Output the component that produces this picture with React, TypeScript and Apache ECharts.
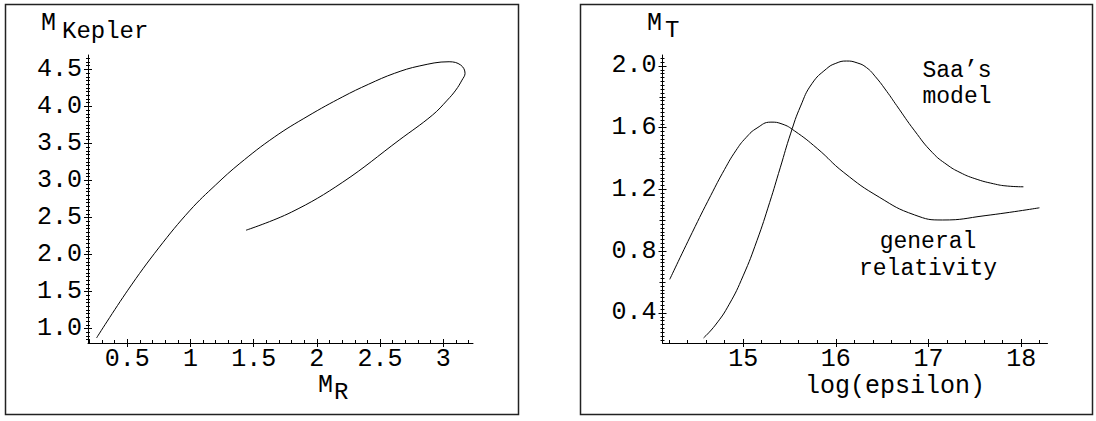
import React, { useEffect, useRef } from "react";
import * as echarts from "echarts";

const FONT = "'Liberation Mono', 'DejaVu Sans Mono', monospace";

// ---- Left panel: M_R (x) vs M_Kepler (y), one parametric curve ----
const keplerCurve: number[][] = [
  [0.2575, 0.873], [0.505, 1.518], [0.75, 2.09], [0.998, 2.599], [1.2, 2.94],
  [1.391, 3.23], [1.663, 3.585], [1.93, 3.87], [2.205, 4.13], [2.41, 4.3],
  [2.613, 4.446], [2.809, 4.545], [3.046, 4.603], [3.138, 4.558], [3.172, 4.446],
  [3.148, 4.355], [3.099, 4.22], [3.032, 4.085], [2.914, 3.882], [2.651, 3.545],
  [2.205, 2.977], [1.799, 2.572], [1.44, 2.328],
];
const leftXRange = [0.19, 3.235];
const leftYRange = [0.805, 4.694];
const leftXMajor = [0.5, 1, 1.5, 2, 2.5, 3];
const leftYMajor = [1.0, 1.5, 2.0, 2.5, 3.0, 3.5, 4.0, 4.5];

// ---- Right panel: log(epsilon) (x) vs M_T (y) ----
const generalRelativity: number[][] = [
  [14.208, 0.617], [14.45, 0.92], [14.65, 1.16], [14.8, 1.33], [14.92, 1.45],
  [15.03, 1.535], [15.15, 1.598], [15.3, 1.636], [15.42, 1.624], [15.553, 1.58],
  [15.8, 1.465], [16.086, 1.31], [16.468, 1.15], [16.849, 1.035], [17.153, 1.002],
  [17.61, 1.03], [18.197, 1.081],
];
const saasModel: number[][] = [
  [14.573, 0.238], [14.7, 0.321], [14.85, 0.456], [15.0, 0.64], [15.15, 0.87],
  [15.286, 1.115], [15.4, 1.34], [15.514, 1.565], [15.62, 1.74], [15.742, 1.885],
  [15.9, 1.982], [16.0, 2.017], [16.115, 2.032], [16.23, 2.02], [16.33, 1.99],
  [16.428, 1.93], [16.55, 1.835], [16.657, 1.743], [16.85, 1.58], [17.04, 1.44],
  [17.2, 1.36], [17.34, 1.31], [17.5, 1.27], [17.7, 1.237], [17.85, 1.222],
  [18.024, 1.217],
];
const rightXRange = [14.13, 18.284];
const rightYRange = [0.205, 2.071];
const rightXMajor = [15, 16, 17, 18];
const rightYMajor = [0.4, 0.8, 1.2, 1.6, 2.0];
const rightYMedium = [0.6, 1.0, 1.4, 1.8];

function range(start: number, stop: number, step: number): number[] {
  const out: number[] = [];
  const n = Math.round((stop - start) / step);
  for (let i = 0; i <= n; i++) out.push(Math.round((start + i * step) * 10000) / 10000);
  return out;
}
const leftXMinor = range(0.2, 3.2, 0.1);
const leftYMinor = range(0.85, 4.65, 0.05);
const rightXMinor = range(14.2, 18.2, 0.2);
const rightYMinor = range(0.225, 2.05, 0.025);

function baseAxis(min: number, max: number): any {
  return {
    type: "value",
    min,
    max,
    axisLine: { show: false, onZero: false },
    axisTick: { show: false },
    axisLabel: { show: false },
    splitLine: { show: false },
    minorTick: { show: false },
    minorSplitLine: { show: false },
  };
}
function tickAxis(min: number, max: number, values: number[], inside: boolean, length: number): any {
  const a = baseAxis(min, max);
  a.axisTick = { show: true, inside, length, customValues: values, lineStyle: { color: "#000", width: 1 } };
  return a;
}
function mainAxis(min: number, max: number, values: number[], formatter: (v: number) => string, isY: boolean): any {
  const a = tickAxis(min, max, values, true, 4);
  a.axisLine = { show: true, onZero: false, lineStyle: { color: "#000", width: 1 } };
  a.axisLabel = {
    show: true,
    customValues: values,
    formatter,
    fontFamily: FONT,
    fontSize: 25,
    color: "#000",
    margin: isY ? 6 : 4,
  };
  return a;
}

const fmt1 = (v: number) => v.toFixed(1);
const fmtHalf = (v: number) => (Math.abs(v - Math.round(v)) < 1e-9 ? String(Math.round(v)) : v.toFixed(1));
const fmtInt = (v: number) => String(Math.round(v));

export default function App() {
  const ref = useRef<HTMLDivElement>(null);
  useEffect(() => {
    if (!ref.current) return;
    const chart = echarts.init(ref.current, undefined, { renderer: "svg" });

    const grids: any[] = [];
    const xAxes: any[] = [];
    const yAxes: any[] = [];
    const addGrid = (rect: any, x: any, y: any) => {
      const gi = grids.length;
      grids.push({ ...rect, containLabel: false, outerBoundsMode: "none" });
      x.gridIndex = gi;
      y.gridIndex = gi;
      xAxes.push(x);
      yAxes.push(y);
      return gi;
    };

    const leftRect = { left: 88, top: 55, width: 385, height: 288 };
    const rightRect = { left: 662.5, top: 55, width: 385, height: 288 };
    const [lx0, lx1] = leftXRange;
    const [ly0, ly1] = leftYRange;
    const [rx0, rx1] = rightXRange;
    const [ry0, ry1] = rightYRange;

    const leftMain = addGrid(leftRect, mainAxis(lx0, lx1, leftXMajor, fmtHalf, false), mainAxis(ly0, ly1, leftYMajor, fmt1, true));
    addGrid(leftRect, tickAxis(lx0, lx1, leftXMajor, false, 4), tickAxis(ly0, ly1, leftYMajor, false, 4));
    addGrid(leftRect, tickAxis(lx0, lx1, leftXMinor, true, 3), tickAxis(ly0, ly1, leftYMinor, true, 2));
    addGrid(leftRect, baseAxis(lx0, lx1), tickAxis(ly0, ly1, leftYMinor, false, 2));

    const rightMain = addGrid(rightRect, mainAxis(rx0, rx1, rightXMajor, fmtInt, false), mainAxis(ry0, ry1, rightYMajor, fmt1, true));
    addGrid(rightRect, tickAxis(rx0, rx1, rightXMajor, false, 4), tickAxis(ry0, ry1, rightYMajor, false, 4));
    addGrid(rightRect, tickAxis(rx0, rx1, rightXMinor, true, 3), tickAxis(ry0, ry1, rightYMinor, true, 2));
    addGrid(rightRect, baseAxis(rx0, rx1), tickAxis(ry0, ry1, rightYMinor, false, 2));
    addGrid(rightRect, baseAxis(rx0, rx1), tickAxis(ry0, ry1, rightYMedium, true, 3));
    addGrid(rightRect, baseAxis(rx0, rx1), tickAxis(ry0, ry1, rightYMedium, false, 3));

    const lineStyle = { color: "#000", width: 1 };
    const txt = (text: string, x: number, y: number, size: number, align = "left") => ({
      type: "text",
      x,
      y,
      silent: true,
      style: {
        text,
        fontFamily: FONT,
        fontSize: size,
        fill: "#000",
        align,
        textAlign: align,
        verticalAlign: "middle",
        textVerticalAlign: "middle",
      },
    });

    chart.setOption({
      animation: false,
      backgroundColor: "#fff",
      grid: grids,
      xAxis: xAxes,
      yAxis: yAxes,
      series: [
        {
          name: "M_Kepler",
          type: "line",
          xAxisIndex: leftMain,
          yAxisIndex: leftMain,
          data: keplerCurve,
          showSymbol: false,
          symbol: "none",
          smooth: 0.4,
          lineStyle,
          silent: true,
        },
        {
          name: "general relativity",
          type: "line",
          xAxisIndex: rightMain,
          yAxisIndex: rightMain,
          data: generalRelativity,
          showSymbol: false,
          symbol: "none",
          smooth: 0.5,
          lineStyle,
          silent: true,
        },
        {
          name: "Saa's model",
          type: "line",
          xAxisIndex: rightMain,
          yAxisIndex: rightMain,
          data: saasModel,
          showSymbol: false,
          symbol: "none",
          smooth: 0.5,
          lineStyle,
          silent: true,
        },
      ],
      graphic: [
        { type: "rect", silent: true, shape: { x: 5.5, y: 4.5, width: 513, height: 410 }, style: { fill: "none", stroke: "#222", lineWidth: 1.5 } },
        { type: "rect", silent: true, shape: { x: 580.5, y: 4.5, width: 512, height: 410 }, style: { fill: "none", stroke: "#222", lineWidth: 1.5 } },
        txt("M", 41, 23.5, 25),
        txt("Kepler", 62, 31, 24),
        txt("M", 318, 385, 25),
        txt("R", 334, 392, 24),
        txt("M", 647, 23, 25),
        txt("T", 665, 30.5, 24),
        txt("log(epsilon)", 895, 386.5, 25, "center"),
        txt("Saa\u2019s", 957, 70.65, 23, "center"),
        txt("model", 957, 97.15, 23, "center"),
        txt("general", 928, 242.35, 23, "center"),
        txt("relativity", 928, 268.85, 23, "center"),
      ],
    });
    return () => chart.dispose();
  }, []);
  return <div ref={ref} style={{ position: "absolute", left: 0, top: 0, width: 1096, height: 421 }} />;
}
